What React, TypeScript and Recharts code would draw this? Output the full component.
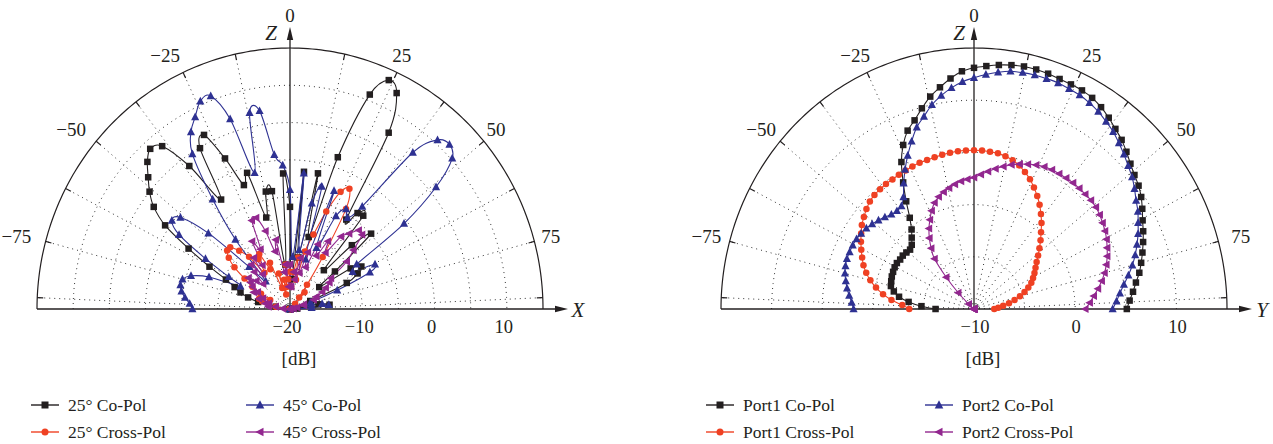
import React from 'react';
import { ComposedChart, Line, XAxis, YAxis, ReferenceLine, ReferenceDot } from 'recharts';

const SERIF = '"Liberation Serif", "Times New Roman", "DejaVu Serif", serif';
const INK = '#231F20';
const RED = '#EF4123';
const BLUE = '#2E3192';
const PURPLE = '#92278F';

// pattern cuts, sampled every 3 degrees from broadside (+Z)
const angles = [
  -90, -87, -84, -81, -78, -75, -72, -69, -66, -63, -60, -57, -54, -51, -48, -45, -42, -39, -36, -33, -30,
  -27, -24, -21, -18, -15, -12, -9, -6, -3, 0, 3, 6, 9, 12, 15, 18, 21, 24, 27, 30,
  33, 36, 39, 42, 45, 48, 51, 54, 57, 60, 63, 66, 69, 72, 75, 78, 81, 84, 87, 90,
];

// XZ cut, 25 and 45 degree beams [dB]
const xzCoPol25 = [
  -22, -22, -21, -18, -15.5, -14, -12.8, -11.8, -10.3, -7.5, -3.8, 0.6, 3.3, 5.0, 6.4, 7.9, 8.9, 8.1, 3.7, -2.5, 4.9,
  6.2, 2.1, -2.2, -0.8, -7.3, -3.9, -4.0, -14, -1.8, -6.3, -16, -1.5, -13, -1.4, -10, 1.4, 10.8, 13.6, 12.5, 7.3,
  -5.7, -4.1, -3.9, -13, -7.9, -4.9, -12, -15, -10, -8.6, -9.5, -11.4, -17, -20, -17, -21, -16, -14.5, -19, -22,
];
const xzCrossPol25 = [
  -22, -22, -20, -18, -17, -16, -15.5, -16, -17, -15.5, -14, -12.5, -10.5, -9.1, -8.3, -8.3, -9.5, -11, -14, -12, -11.5,
  -14, -13.2, -17, -15, -18, -16, -17, -14, -16, -15, -17, -15, -13, -16, -12, -9.5, -6, -2.8, -1.9, -4.5,
  -11.7, -16, -18, -17, -19, -20, -21, -21, -22, -22, -22, -22, -22, -22, -22, -22, -22, -22, -22, -22,
];
const xzCoPol45 = [
  -6.5, -6.1, -5.4, -4.8, -4.5, -4.6, -5.6, -8.0, -12.5, -10.5, -6.5, -1.7, 0.2, -0.5, -4.8, -12, -15, -8, -1.8, 4.8, 7.4,
  8.9, 10.5, 10.6, 6.8, -1.1, 6.9, 6.9, 0.8, -0.7, -4, -13, -1.7, -12, -5.5, -3, -13, -3, -11, -6, -4.5,
  -5.4, -3, 7.0, 10.5, 11.2, 10.2, 6.0, -0.5, -9, -10, -6.8, -7.9, -13, -17, -21, -17, -15.5, -14.6, -17, -22,
];
const xzCrossPol45 = [
  -22, -19, -17, -18, -16.5, -17, -15.5, -16, -14.5, -15, -14, -13.5, -12.9, -14, -15, -13, -12, -14, -11.5, -13, -9.5,
  -11, -7, -6.9, -9, -12, -10.5, -15, -14, -17, -14, -17, -15, -16, -13, -15, -12, -14, -10.5, -12, -9.5,
  -11, -8, -7, -5.8, -5.9, -8.2, -9.9, -13, -13.5, -14.3, -15, -16, -16.5, -18, -18, -19, -19.5, -20, -21, -22,
];

// YZ cut, port 1 and port 2 [dB]
const yzCoPol1 = [
  -6.2, -4.8, -3.5, -2.5, -1.9, -1.5, -1.4, -1.3, -1.25, -1.2, -1.2, -1.3, -1.3, -1.4, -1.5, -1.3, -0.8, -0.2, 0.8, 2.3, 4.0,
  5.8, 7.2, 8.3, 9.0, 9.9, 10.8, 11.5, 12.2, 12.8, 13.1, 13.3, 13.5, 13.65, 13.75, 13.75, 13.7, 13.6, 13.55, 13.5, 13.35,
  13.05, 12.65, 12.2, 11.8, 11.3, 10.8, 10.4, 10.1, 9.7, 9.2, 8.7, 8.3, 7.9, 7.5, 7.1, 6.7, 6.2, 5.8, 5.4, 5.1,
];
const yzCrossPol1 = [
  -3.6, -2.9, -1.8, -0.9, -0.1, 0.6, 1.2, 1.7, 2.1, 2.5, 2.9, 3.3, 3.7, 4.0, 4.3, 4.55, 4.7, 4.75, 4.8, 4.8, 4.85,
  4.9, 4.95, 5.0, 5.0, 5.05, 5.1, 5.15, 5.2, 5.2, 5.2, 5.2, 5.15, 5.1, 4.95, 4.75, 4.45, 4.05, 3.6, 3.05, 2.5,
  1.9, 1.25, 0.6, -0.1, -0.7, -1.3, -1.85, -2.35, -2.75, -3.1, -3.45, -3.8, -4.25, -4.75, -5.3, -5.9, -6.5, -7.1, -7.6, -8.0,
];
const yzCoPol2 = [
  1.9, 2.1, 2.4, 2.7, 2.95, 3.2, 3.35, 3.45, 3.45, 3.45, 3.4, 3.3, 3.15, 2.95, 2.7, 2.45, 2.2, 2.1, 2.2, 2.8, 3.9,
  5.0, 6.1, 7.2, 8.3, 9.1, 10.0, 10.7, 11.3, 11.8, 12.15, 12.5, 12.8, 13.05, 13.15, 13.2, 13.2, 13.2, 13.1, 13.0, 12.8,
  12.55, 12.2, 11.85, 11.4, 10.95, 10.5, 10.1, 9.6, 9.1, 8.7, 8.2, 7.75, 7.25, 6.75, 6.2, 5.6, 5.0, 4.5, 4.1, 3.7,
];
const yzCrossPol2 = [
  -10, -10, -10, -10, -10, -10, -10, -10, -10, -10, -10, -10, -10, -10, -9.3, -7.8, -5.9, -3.8, -2.8, -1.9, -1.1,
  -0.4, 0.3, 0.9, 1.3, 1.6, 1.85, 2.1, 2.3, 2.45, 2.6, 2.9, 3.25, 3.6, 3.95, 4.3, 4.6, 4.85, 5.1, 5.3, 5.4,
  5.45, 5.5, 5.55, 5.55, 5.55, 5.55, 5.5, 5.35, 5.15, 4.95, 4.7, 4.4, 4.1, 3.75, 3.35, 2.9, 2.4, 1.9, 1.45, 1.0,
];

// axes
const xzRange = [-20, 15];
const yzRange = [-10, 15];
const xzRings = [-15, -10, -5, 0, 5, 10];
const yzRings = [-5, 0, 5, 10];
const xzTicks = [-20, -10, 0, 10];
const yzTicks = [-10, 0, 10];
const angleLabels = [-75, -50, -25, 0, 25, 50, 75];
const spokeAngles = [-87.5, -75, -62.5, -50, -37.5, -25, -12.5, 12.5, 25, 37.5, 50, 62.5, 75, 87.5];

type MarkerKind = 'square' | 'circle' | 'triUp' | 'triLeft';
interface Series {
  name: string;
  values: number[];
  color: string;
  marker: MarkerKind;
}

const xzSeries: Series[] = [
  { name: '25° Co-Pol', values: xzCoPol25, color: INK, marker: 'square' },
  { name: '25° Cross-Pol', values: xzCrossPol25, color: RED, marker: 'circle' },
  { name: '45° Co-Pol', values: xzCoPol45, color: BLUE, marker: 'triUp' },
  { name: '45° Cross-Pol', values: xzCrossPol45, color: PURPLE, marker: 'triLeft' },
];
const yzSeries: Series[] = [
  { name: 'Port1 Co-Pol', values: yzCoPol1, color: INK, marker: 'square' },
  { name: 'Port1 Cross-Pol', values: yzCrossPol1, color: RED, marker: 'circle' },
  { name: 'Port2 Co-Pol', values: yzCoPol2, color: BLUE, marker: 'triUp' },
  { name: 'Port2 Cross-Pol', values: yzCrossPol2, color: PURPLE, marker: 'triLeft' },
];

// plot box in px: half width and height of the half-disc
const PW = 253;
const PH = 261;
const rad = (d: number) => (d * Math.PI) / 180;
const fmt = (v: number) => (v < 0 ? `\u2212${Math.abs(v)}` : `${v}`);

// dB values -> cartesian points, radius measured from the floor level
const toPoints = (vals: number[], floor: number) =>
  angles.map((deg, i) => {
    const r = Math.max(vals[i] - floor, 0);
    return { x: r * Math.sin(rad(deg)), y: r * Math.cos(rad(deg)) };
  });

const arcPoints = (r: number) => {
  const pts = [];
  for (let d = -90; d <= 90; d += 1) pts.push({ x: r * Math.sin(rad(d)), y: r * Math.cos(rad(d)) });
  return pts;
};

// uniform Catmull-Rom spline, passes through every sample
function catmullRom(context: any) {
  let pts: number[][] = [];
  return {
    areaStart() {},
    areaEnd() {},
    lineStart() {
      pts = [];
    },
    point(x: number, y: number) {
      pts.push([+x, +y]);
    },
    lineEnd() {
      if (!pts.length) return;
      context.moveTo(pts[0][0], pts[0][1]);
      for (let i = 0; i < pts.length - 1; i++) {
        const p0 = pts[i > 0 ? i - 1 : i];
        const p1 = pts[i];
        const p2 = pts[i + 1];
        const p3 = pts[i + 2 < pts.length ? i + 2 : i + 1];
        context.bezierCurveTo(
          p1[0] + (p2[0] - p0[0]) / 6,
          p1[1] + (p2[1] - p0[1]) / 6,
          p2[0] - (p3[0] - p1[0]) / 6,
          p2[1] - (p3[1] - p1[1]) / 6,
          p2[0],
          p2[1],
        );
      }
    },
  };
}

function MarkerGlyph({ kind, cx, cy, color, size }: { kind: MarkerKind; cx: number; cy: number; color: string; size: number }) {
  const h = size / 2;
  if (kind === 'square') return <rect x={cx - h} y={cy - h} width={size} height={size} fill={color} />;
  if (kind === 'circle') return <circle cx={cx} cy={cy} r={h} fill={color} />;
  if (kind === 'triUp')
    return <polygon points={`${cx},${cy - h - 1.2} ${cx - h - 0.8},${cy + h} ${cx + h + 0.8},${cy + h}`} fill={color} />;
  return <polygon points={`${cx - h - 1.2},${cy} ${cx + h},${cy - h - 0.8} ${cx + h},${cy + h + 0.8}`} fill={color} />;
}

const markerDot = (kind: MarkerKind, color: string) => (p: any) => {
  const key = `m-${p.index}`;
  if (p.cx == null || p.cy == null || Number.isNaN(p.cx)) return <g key={key} />;
  return <MarkerGlyph key={key} kind={kind} cx={p.cx} cy={p.cy} color={color} size={6.5} />;
};

const arrowShape = (letter: string, lx: number, ly: number) => (p: any) => {
  const { x1, y1, x2, y2 } = p;
  const a = Math.atan2(y2 - y1, x2 - x1);
  const len = 13;
  const w = 3.2;
  const bx = x2 - len * Math.cos(a);
  const by = y2 - len * Math.sin(a);
  const nx = -Math.sin(a) * w;
  const ny = Math.cos(a) * w;
  return (
    <g>
      <line x1={x1} y1={y1} x2={bx} y2={by} stroke={INK} strokeWidth={1.3} />
      <polygon points={`${x2},${y2} ${bx + nx},${by + ny} ${bx - nx},${by - ny}`} fill={INK} />
      <text
        x={x2 + lx}
        y={y2 + ly}
        textAnchor="middle"
        dominantBaseline="central"
        fontFamily={SERIF}
        fontStyle="italic"
        fontSize={21}
        fill={INK}
      >
        {letter}
      </text>
    </g>
  );
};

interface PanelProps {
  width: number;
  range: number[];
  rings: number[];
  ticks: number[];
  series: Series[];
  horizontal: string;
  zLetterDx: number;
  tickDx: number;
  labelDx: number;
}

function PolarPanel({ width, range, rings, ticks, series, horizontal, zLetterDx, tickDx, labelDx }: PanelProps) {
  const [floor, ceil] = range;
  const span = ceil - floor;
  const ux = span / PW; // data units per px, horizontal
  const uy = span / PH; // data units per px, vertical
  const margin = { top: 48, left: 37, right: width - 37 - 2 * PW, bottom: 41 };

  return (
    <ComposedChart width={width} height={380} margin={margin}>
      <XAxis
        type="number"
        dataKey="x"
        domain={[-span, span]}
        ticks={ticks.map((t) => t - floor)}
        interval={0}
        axisLine={false}
        tickLine={false}
        tickSize={0}
        tickMargin={0}
        height={30}
        tick={(p: any) => (
          <text
            key={`t-${p.index}`}
            x={p.x + tickDx}
            y={p.y + 24}
            textAnchor="middle"
            fontFamily={SERIF}
            fontSize={18.5}
            fill={INK}
          >
            {fmt(p.payload.value + floor)}
          </text>
        )}
        label={{
          position: 'bottom',
          content: ({ viewBox }: any) => (
            <text
              x={viewBox.x + viewBox.width / 2 + 9}
              y={viewBox.y + 56}
              textAnchor="middle"
              fontFamily={SERIF}
              fontSize={19}
              fill={INK}
            >
              [dB]
            </text>
          ),
        }}
      />
      <YAxis type="number" dataKey="y" domain={[0, span]} hide width={0} />

      {/* dotted range rings and the solid rim */}
      {rings.map((lv) => (
        <Line
          key={`ring-${lv}`}
          data={arcPoints(lv - floor)}
          dataKey="y"
          type="linear"
          stroke="#333"
          strokeWidth={1}
          strokeDasharray="1 4"
          dot={false}
          activeDot={false}
          legendType="none"
          isAnimationActive={false}
        />
      ))}
      {spokeAngles.map((d) => (
        <ReferenceLine
          key={`spoke-${d}`}
          segment={[
            { x: 0, y: 0 },
            { x: span * Math.sin(rad(d)), y: span * Math.cos(rad(d)) },
          ]}
          stroke="#333"
          strokeWidth={1}
          strokeDasharray="1 4"
          ifOverflow="visible"
        />
      ))}
      <Line
        data={arcPoints(span)}
        dataKey="y"
        type="linear"
        stroke={INK}
        strokeWidth={1.2}
        dot={false}
        activeDot={false}
        legendType="none"
        isAnimationActive={false}
      />
      {spokeAngles.map((d) => (
        <ReferenceLine
          key={`tick-${d}`}
          segment={[
            { x: span * Math.sin(rad(d)), y: span * Math.cos(rad(d)) },
            { x: (span - 6 * ux) * Math.sin(rad(d)), y: (span - 6 * uy) * Math.cos(rad(d)) },
          ]}
          stroke={INK}
          strokeWidth={1.2}
          ifOverflow="visible"
        />
      ))}

      {/* angle labels just outside the rim */}
      {angleLabels.map((d) => {
        const rx = 274 * ux;
        const ry = (d === 0 ? 294 : 280) * uy;
        const shift = (labelDx + (d < 0 ? -5 : 0)) * ux;
        return (
          <ReferenceDot
            key={`al-${d}`}
            x={d === 0 ? 0 : rx * Math.sin(rad(d)) + shift}
            y={ry * Math.cos(rad(d))}
            r={0}
            fill="none"
            stroke="none"
            ifOverflow="visible"
            label={{ value: fmt(d), position: 'center', fill: INK, fontSize: 19, fontFamily: SERIF }}
          />
        );
      })}

      {/* horizontal axis and Z axis with arrow heads */}
      <ReferenceLine
        segment={[
          { x: -span, y: 0 },
          { x: span + 25 * ux, y: 0 },
        ]}
        ifOverflow="visible"
        shape={arrowShape(horizontal, 10, 1)}
      />
      <ReferenceLine
        segment={[
          { x: 0, y: 0 },
          { x: 0, y: span + 21 * uy },
        ]}
        ifOverflow="visible"
        shape={arrowShape('Z', zLetterDx, 6)}
      />

      {series.map((s) => (
        <Line
          key={s.name}
          name={s.name}
          data={toPoints(s.values, floor)}
          dataKey="y"
          type={catmullRom as any}
          stroke={s.color}
          strokeWidth={1.1}
          dot={markerDot(s.marker, s.color)}
          activeDot={false}
          isAnimationActive={false}
        />
      ))}
    </ComposedChart>
  );
}

function LegendEntry({ s, x, y }: { s: Series; x: number; y: number }) {
  return (
    <div
      style={{
        position: 'absolute',
        left: x,
        top: y - 11,
        height: 22,
        display: 'flex',
        alignItems: 'center',
        fontFamily: SERIF,
        fontSize: 17.5,
        color: INK,
        whiteSpace: 'nowrap',
      }}
    >
      <svg width={28} height={14} style={{ marginRight: 9 }}>
        <line x1={0} y1={7} x2={28} y2={7} stroke={s.color} strokeWidth={1.4} />
        <MarkerGlyph kind={s.marker} cx={14} cy={7} color={s.color} size={7} />
      </svg>
      <span>{s.name}</span>
    </div>
  );
}

function LegendGrid({ series, cols }: { series: Series[]; cols: number[] }) {
  const rows = [405, 432];
  return (
    <>
      {series.map((s, i) => (
        <LegendEntry key={s.name} s={s} x={cols[Math.floor(i / 2)]} y={rows[i % 2]} />
      ))}
    </>
  );
}

export default function App() {
  return (
    <div
      style={{ position: 'absolute', left: 0, top: 0, width: 1273, height: 444, overflow: 'hidden', background: '#fff' }}
    >
      <div style={{ position: 'absolute', left: 0, top: 0 }}>
        <PolarPanel
          width={620}
          range={xzRange}
          rings={xzRings}
          ticks={xzTicks}
          series={xzSeries}
          horizontal="X"
          zLetterDx={-19}
          tickDx={-3}
          labelDx={-4}
        />
      </div>
      <div style={{ position: 'absolute', left: 684, top: 0 }}>
        <PolarPanel
          width={589}
          range={yzRange}
          rings={yzRings}
          ticks={yzTicks}
          series={yzSeries}
          horizontal="Y"
          zLetterDx={-15}
          tickDx={1}
          labelDx={2}
        />
      </div>
      <LegendGrid series={xzSeries} cols={[31, 246]} />
      <LegendGrid series={yzSeries} cols={[706, 925]} />
    </div>
  );
}
